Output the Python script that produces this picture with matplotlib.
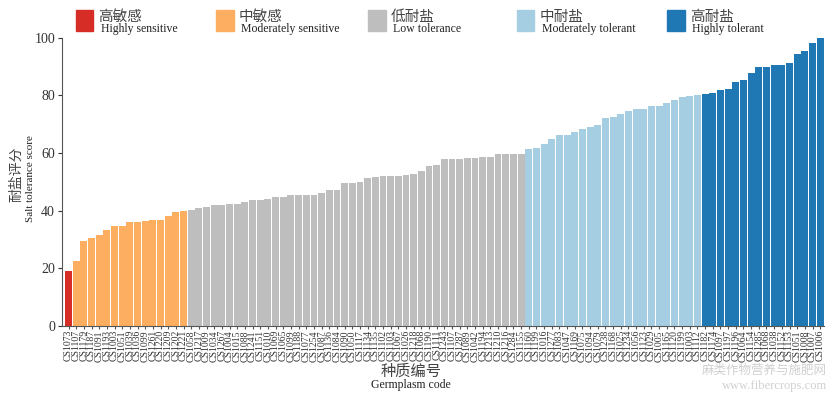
import matplotlib
matplotlib.use('Agg')
import matplotlib.pyplot as plt
from matplotlib.patches import Rectangle

plt.rcParams['font.family'] = ['Liberation Serif', 'Noto Sans CJK SC']

# germplasm codes in plotted order
codes = ['CS1073',
         'CS1107', 'CS1179', 'CS1187', 'CS1091', 'CS1193', 'CS1003', 'CS1051',
         'CS1039', 'CS1036', 'CS1099', 'CS1261', 'CS1220', 'CS1209', 'CS1202',
         'CS1221',
         'CS1058', 'CS1217', 'CS1009', 'CS1034', 'CS1267', 'CS1004', 'CS1015',
         'CS1088', 'CS1241', 'CS1151', 'CS1010', 'CS1069', 'CS1065', 'CS1099',
         'CS1188', 'CS1077', 'CS1254', 'CS1087', 'CS1136', 'CS1084', 'CS1090',
         'CS1050', 'CS1117', 'CS1134', 'CS1135', 'CS1102', 'CS1103', 'CS1067',
         'CS1026', 'CS1218', 'CS1068', 'CS1190', 'CS1111', 'CS1243', 'CS1107',
         'CS1287', 'CS1089', 'CS1042', 'CS1194', 'CS1213', 'CS1210', 'CS1216',
         'CS1284', 'CS1155',
         'CS1160', 'CS1199', 'CS1016', 'CS1277', 'CS1083', 'CS1047', 'CS1169',
         'CS1075', 'CS1094', 'CS1079', 'CS1238', 'CS1168', 'CS1025', 'CS1234',
         'CS1056', 'CS1123', 'CS1029', 'CS1005', 'CS1165', 'CS1120', 'CS1199',
         'CS1003', 'CS1112',
         'CS1182', 'CS1174', 'CS1097', 'CS1197', 'CS1196', 'CS1064', 'CS1154',
         'CS1285', 'CS1068', 'CS1038', 'CS1152', 'CS1153', 'CS1051', 'CS1008',
         'CS1007', 'CS1006']

high_sens = [19.2]
mod_sens = [22.6, 29.3, 30.4, 31.5, 33.4, 34.7, 34.8, 36.0, 36.0, 36.5,
            36.8, 36.9, 38.2, 39.4, 40.0]
low_tol = [40.3, 40.8, 41.3, 41.8, 41.8, 42.3, 42.4, 42.9, 43.6, 43.7,
           44.1, 44.9, 44.9, 45.3, 45.4, 45.5, 45.6, 46.0, 47.1, 47.3,
           49.5, 49.6, 49.8, 51.3, 51.6, 51.9, 52.0, 52.1, 52.3, 52.8,
           53.7, 55.6, 56.0, 57.8, 57.8, 57.9, 58.3, 58.4, 58.5, 58.5,
           59.7, 59.7, 59.7, 59.7]
mod_tol = [61.3, 61.8, 63.2, 65.0, 66.1, 66.4, 67.4, 68.4, 69.0, 69.8,
           72.1, 72.5, 73.5, 74.7, 75.3, 75.3, 76.2, 76.3, 77.2, 78.5,
           79.3, 79.8, 80.0]
high_tol = [80.4, 80.8, 81.7, 82.2, 84.7, 85.3, 87.6, 89.7, 89.8, 90.5,
            90.6, 91.3, 94.3, 95.3, 98.0, 100.0]

groups = [
    (high_sens, '#d62e26', '高敏感', 'Highly sensitive'),
    (mod_sens, '#fdae61', '中敏感', 'Moderately sensitive'),
    (low_tol, '#bebebe', '低耐盐', 'Low tolerance'),
    (mod_tol, '#a6cee3', '中耐盐', 'Moderately tolerant'),
    (high_tol, '#1f78b4', '高耐盐', 'Highly tolerant'),
]

fig = plt.figure(figsize=(8.31, 3.97), dpi=100)
ax = fig.add_axes([0.0746, 0.179, 0.917, 0.726])

start = 0
for vals, color, zh, en in groups:
    xs = list(range(start, start + len(vals)))
    ax.bar(xs, vals, width=0.9, color=color, linewidth=0)
    start += len(vals)

ax.set_xlim(-0.85, len(codes) - 0.5)
ax.set_ylim(0, 100)
ax.set_xticks(range(len(codes)))
ax.set_xticklabels(codes, rotation=90, fontsize=7, color='#333333')
ax.set_yticks([0, 20, 40, 60, 80, 100])
ax.tick_params(axis='y', labelsize=10, length=3, pad=2, colors='#333333')
ax.tick_params(axis='x', length=2, pad=1, colors='#555555')
for lbl in ax.get_xticklabels():
    lbl.set_color('#333333')
for s in ['top', 'right']:
    ax.spines[s].set_visible(False)
ax.spines['left'].set_color('#555555')
ax.spines['bottom'].set_color('#555555')

# axis titles (Chinese + English)
fig.text(0.019, 0.56, '耐盐评分', rotation=90, ha='center', va='center',
         fontsize=10, family='Noto Sans CJK SC', color='#444444')
fig.text(0.037, 0.55, 'Salt tolerance score', rotation=90, ha='center',
         va='center', fontsize=8, color='#222222')
fig.text(0.495, 0.066, '种质编号', ha='center', va='center', fontsize=11,
         family='Noto Sans CJK SC', color='#444444')
fig.text(0.495, 0.030, 'Germplasm code', ha='center', va='center',
         fontsize=8.5, color='#222222')

# legend across the top
leg_x = [0.091, 0.260, 0.443, 0.622, 0.803]
for (vals, color, zh, en), x0 in zip(groups, leg_x):
    fig.add_artist(Rectangle((x0, 0.923), 0.021, 0.052, color=color,
                             transform=fig.transFigure))
    fig.text(x0 + 0.027, 0.958, zh, ha='left', va='center', fontsize=10.5,
             family='Noto Sans CJK SC', color='#444444')
    fig.text(x0 + 0.030, 0.928, en, ha='left', va='center', fontsize=8.5,
             color='#222222')

# watermark
fig.text(0.995, 0.066, '麻类作物营养与施肥网', ha='right', va='center',
         fontsize=9, family='Noto Sans CJK SC', color='#d0d0d0')
fig.text(0.995, 0.028, 'www.fibercrops.com', ha='right', va='center',
         fontsize=9, color='#d0d0d0')

fig.savefig('out.png', dpi=100)
